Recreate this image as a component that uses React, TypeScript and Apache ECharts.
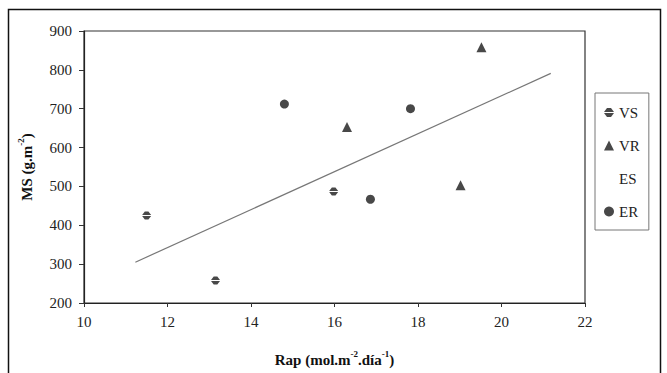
import React, { useEffect, useRef } from "react";
import * as echarts from "echarts";

const vsData: number[][] = [[11.5, 425], [13.15, 258], [15.98, 487]];
const vrData: number[][] = [[16.3, 653], [19.52, 858], [19.02, 503]];
const esData: number[][] = [];
const erData: number[][] = [[14.8, 712], [17.82, 700], [16.86, 467]];
const trendData: number[][] = [[11.23, 305], [21.18, 791]];
const xTicks = [10, 12, 14, 16, 18, 20, 22];
const yTicks = [200, 300, 400, 500, 600, 700, 800, 900];

const FONT = "'Liberation Serif', 'Times New Roman', serif";
const VS_SYMBOL = "path://M3,0 L7,0 L10,3.9 L0,3.9 Z M0,5.1 L10,5.1 L7,9 L3,9 Z";

export default function App() {
  const ref = useRef<HTMLDivElement>(null);
  useEffect(() => {
    if (!ref.current) return;
    const chart = echarts.init(ref.current, null, { renderer: "svg" });
    const rich = {
      b: { fontFamily: FONT, fontSize: 15, fontWeight: "bold", color: "#111", lineHeight: 18, verticalAlign: "bottom" },
      s: { fontFamily: FONT, fontSize: 9, fontWeight: "bold", color: "#111", lineHeight: 18, verticalAlign: "top" },
    };
    chart.setOption({
      animation: false,
      backgroundColor: "#fff",
      textStyle: { fontFamily: FONT, color: "#111" },
      graphic: [
        {
          type: "rect",
          shape: { x: 8.5, y: 9.5, width: 652, height: 372 },
          style: { fill: "none", stroke: "#111", lineWidth: 1.5 },
          silent: true,
        },
      ],
      grid: {
        left: 84,
        right: 82,
        top: 31,
        bottom: 70,
        show: true,
        borderColor: "#333",
        borderWidth: 1.2,
      },
      legend: {
        orient: "vertical",
        left: 595,
        top: 93,
        padding: [12, 9, 11, 9],
        itemGap: 18,
        itemWidth: 10,
        itemHeight: 10,
        borderColor: "#777",
        borderWidth: 1,
        textStyle: { fontFamily: FONT, fontSize: 15, color: "#222", lineHeight: 15 },
        data: ["VS", "VR", "ES", "ER"],
      },
      xAxis: {
        type: "value",
        min: xTicks[0],
        max: xTicks[xTicks.length - 1],
        interval: 2,
        splitLine: { show: false },
        axisLine: { lineStyle: { color: "#222", width: 1.2 } },
        axisTick: { show: true, length: 4, lineStyle: { color: "#333" } },
        axisLabel: { fontFamily: FONT, fontSize: 15, color: "#222", margin: 11 },
        name: "{b|Rap (mol.m}{s|-2}{b|.día}{s|-1}{b|)}",
        nameLocation: "middle",
        nameGap: 46,
        nameTextStyle: { rich },
      },
      yAxis: {
        type: "value",
        min: yTicks[0],
        max: yTicks[yTicks.length - 1],
        interval: 100,
        splitLine: { show: false },
        axisLine: { show: true, lineStyle: { color: "#222", width: 1.2 } },
        axisTick: { show: true, length: 5, lineStyle: { color: "#333" } },
        axisLabel: { fontFamily: FONT, fontSize: 15, color: "#222", margin: 12 },
        name: "{b|MS (g.m}{s|-2}{b|)}",
        nameLocation: "middle",
        nameGap: 50,
        nameRotate: 90,
        nameTextStyle: { rich },
      },
      series: [
        {
          name: "trend",
          type: "line",
          data: trendData,
          showSymbol: false,
          symbol: "none",
          lineStyle: { color: "#777", width: 1.2 },
          silent: true,
          z: 1,
        },
        {
          name: "VS",
          type: "scatter",
          data: vsData,
          symbol: VS_SYMBOL,
          symbolSize: [9, 8],
          itemStyle: { color: "#1a1a1a" },
          z: 3,
        },
        {
          name: "VR",
          type: "scatter",
          data: vrData,
          symbol: "triangle",
          symbolSize: 10,
          itemStyle: { color: "#1a1a1a" },
          z: 3,
        },
        {
          name: "ES",
          type: "scatter",
          data: esData,
          symbol: "circle",
          symbolSize: 9,
          itemStyle: { color: "rgba(255,255,255,0)" },
          z: 3,
        },
        {
          name: "ER",
          type: "scatter",
          data: erData,
          symbol: "circle",
          symbolSize: 9,
          itemStyle: { color: "#1a1a1a" },
          z: 3,
        },
      ],
    });
    return () => chart.dispose();
  }, []);
  return (
    <div
      ref={ref}
      style={{ position: "fixed", left: 0, top: 0, width: 667, height: 373 }}
    />
  );
}
